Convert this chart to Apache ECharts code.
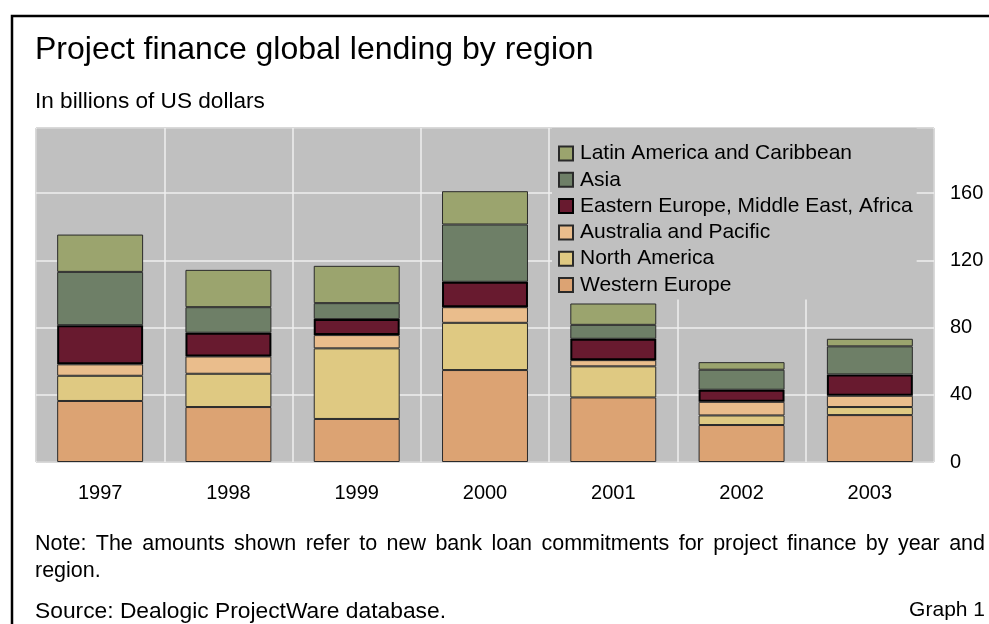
<!DOCTYPE html>
<html>
<head>
<meta charset="utf-8">
<script src="https://cdn.jsdelivr.net/npm/echarts@6/dist/echarts.min.js"></script>
<style>
html,body{margin:0;padding:0;background:#fff;}
#chart{width:989px;height:624px;}
</style>
</head>
<body>
<div id="chart"></div>
<script>
const years = ['1997','1998','1999','2000','2001','2002','2003'];
const westernEurope = [36.3, 32.7, 25.6, 54.7, 38.4, 22.0, 27.9];
const northAmerica  = [15.0, 19.8, 42.0, 28.1, 18.5, 5.7, 4.8];
const australiaPacific = [6.8, 10.3, 7.9, 9.3, 3.7, 8.1, 6.7];
const easternEuropeMEA = [23.3, 14.1, 9.5, 15.1, 12.7, 7.2, 12.7];
const asia = [31.7, 15.2, 9.5, 34.1, 8.3, 11.9, 16.7];
const latinAmerica = [22.2, 22.2, 22.2, 19.8, 12.7, 4.5, 4.5];
const yTicks = [0, 40, 80, 120, 160];

const FONT = '"Liberation Sans", Arial, sans-serif';
const noteLine1 = 'Note: The amounts shown refer to new bank loan commitments for project finance by year and';
const noteLine2 = 'region.';

function justifiedWords(text, x0, x1, y, size) {
  const c = document.createElement('canvas').getContext('2d');
  c.font = size + 'px ' + FONT;
  const words = text.split(' ');
  const widths = words.map(w => c.measureText(w).width);
  const total = widths.reduce((a, b) => a + b, 0);
  const gap = (x1 - x0 - total) / (words.length - 1);
  let x = x0;
  return words.map((w, i) => {
    const el = {type: 'text', left: x, top: y, style: {text: w, font: size + 'px ' + FONT, fill: '#000'}};
    x += widths[i] + gap;
    return el;
  });
}

const seriesDefs = [
  {name: 'Western Europe', data: westernEurope, color: '#dca373', bw: 1},
  {name: 'North America', data: northAmerica, color: '#dfc982', bw: 1},
  {name: 'Australia and Pacific', data: australiaPacific, color: '#eabd8c', bw: 1},
  {name: 'Eastern Europe, Middle East, Africa', data: easternEuropeMEA, color: '#681a2f', bw: 2},
  {name: 'Asia', data: asia, color: '#6e7f67', bw: 1},
  {name: 'Latin America and Caribbean', data: latinAmerica, color: '#9ba46e', bw: 1}
];

const chart = echarts.init(document.getElementById('chart'), null, {renderer: 'canvas'});
chart.setOption({
  animation: false,
  textStyle: {fontFamily: FONT},
  grid: {left: 36, right: 55, top: 128, bottom: 162, show: true, backgroundColor: '#c0c0c0', borderColor: '#333', borderWidth: 1},
  legend: {
    orient: 'vertical', left: 552, top: 128, icon: 'rect',
    padding: [15, 4, 4, 6], itemGap: 5.3, itemWidth: 14, itemHeight: 14,
    backgroundColor: '#c0c0c0',
    textStyle: {fontSize: 21, color: '#000', fontFamily: FONT, padding: [0, 0, 0, 2]},
    data: seriesDefs.map(s => s.name).reverse()
  },
  xAxis: {
    type: 'category', data: years,
    axisLine: {show: false}, axisTick: {show: false},
    axisLabel: {fontSize: 20, color: '#000', margin: 21},
    splitLine: {show: true, lineStyle: {color: '#efefef', width: 1.5}}
  },
  yAxis: {
    type: 'value', position: 'right', min: 0, max: 198.7, interval: 40,
    axisLine: {show: false}, axisTick: {show: false},
    axisLabel: {fontSize: 20, color: '#000', margin: 16, showMaxLabel: false,
      formatter: v => yTicks.indexOf(v) >= 0 ? String(v) : ''},
    splitLine: {show: true, lineStyle: {color: '#efefef', width: 1.5}}
  },
  series: seriesDefs.map(s => ({
    name: s.name, type: 'bar', stack: 'total', barWidth: '67%', data: s.data,
    itemStyle: {color: s.color, borderColor: s.bw > 1 ? '#000' : '#2a2a2a', borderWidth: s.bw}
  })),
  graphic: [
    {type: 'rect', shape: {x: 12, y: 16, width: 1000, height: 700}, style: {fill: 'none', stroke: '#000', lineWidth: 2.5}},
    {type: 'text', left: 35, top: 34, style: {text: 'Project finance global lending by region', font: '32px ' + FONT, fill: '#000'}},
    {type: 'text', left: 35, top: 90, style: {text: 'In billions of US dollars', font: '22.6px ' + FONT, fill: '#000'}},
    ...justifiedWords(noteLine1, 35, 985, 533, 21.5),
    {type: 'text', left: 35, top: 560, style: {text: noteLine2, font: '21.5px ' + FONT, fill: '#000'}},
    {type: 'text', left: 35, top: 600, style: {text: 'Source: Dealogic ProjectWare database.', font: '22.8px ' + FONT, fill: '#000'}},
    {type: 'text', right: 4, top: 600, style: {text: 'Graph 1', font: '21px ' + FONT, fill: '#000'}}
  ]
});
</script>
</body>
</html>
